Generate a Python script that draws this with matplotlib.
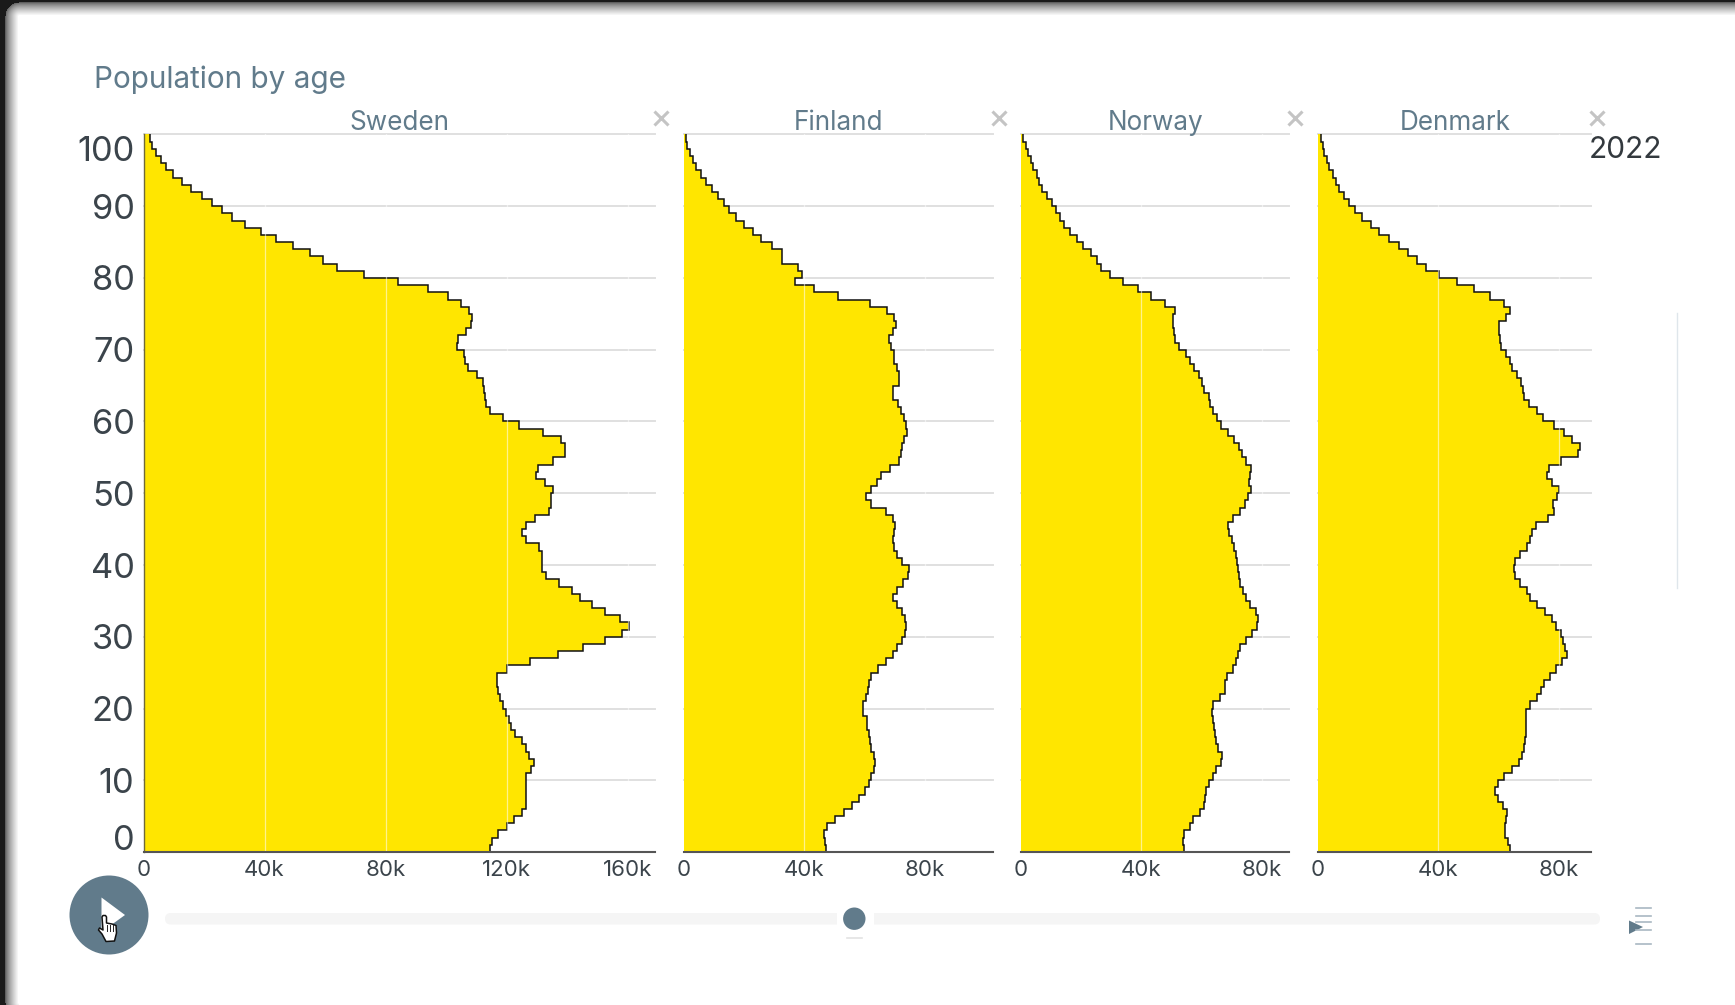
import numpy as np
import matplotlib
matplotlib.use("Agg")
import matplotlib.pyplot as plt
from matplotlib.patches import Circle, Polygon, FancyBboxPatch

plt.rcParams['font.family'] = ['Inter', 'DejaVu Sans']

W, H = 1735, 1005

# population by single year of age (thousands), age 0 .. 99
sweden = [114.5,115.2,117.3,120.3,122.6,125.1,126.4,126.4,126.4,126.3,
          126.3,128.2,129.2,127.4,126.3,125.1,122.7,121.5,120.9,119.8,
          118.8,118.0,117.3,116.8,116.9,120.3,127.8,137.0,145.4,152.7,
          158.2,160.6,157.5,152.7,148.4,144.4,141.5,137.2,133.2,131.6,
          131.6,131.8,130.7,126.6,125.1,126.3,129.3,133.9,134.7,134.6,
          135.4,132.7,129.6,130.4,135.4,139.3,139.3,138.0,132.2,124.0,
          118.7,114.7,113.2,112.8,112.6,112.3,110.3,107.3,106.4,105.9,
          103.7,104.0,106.7,108.4,108.7,107.6,105.0,100.8,93.9,84.1,
          73.0,64.0,59.4,55.1,49.3,43.8,38.8,33.5,29.4,26.0,
          22.7,19.2,15.6,12.6,9.8,7.3,5.8,4.0,2.8,2.0]
finland = [47.2,47.0,46.7,47.5,50.3,53.1,55.9,58.3,60.1,61.5,
           62.3,63.1,63.5,63.1,62.3,62.0,61.5,61.0,60.7,59.7,
           59.7,60.4,61.3,61.5,62.3,64.6,67.1,69.6,70.9,72.4,
           73.6,73.7,73.4,72.5,70.8,69.4,70.8,72.9,74.4,74.7,
           72.6,70.7,69.9,69.6,69.9,70.3,69.6,67.2,62.3,60.4,
           62.3,64.1,65.5,68.5,71.6,72.3,72.5,73.3,74.0,73.8,
           73.1,72.0,71.3,69.6,69.6,71.4,71.5,70.7,69.9,69.8,
           68.8,68.3,69.6,70.5,69.9,67.4,61.7,51.2,43.3,37.0,
           39.2,38.1,32.8,32.8,29.2,25.6,22.9,20.2,17.3,15.0,
           13.5,11.6,9.6,7.4,5.7,4.2,3.1,2.0,1.3,0.8]
norway = [54.1,53.7,54.1,56.0,57.2,59.6,60.9,61.2,61.5,62.4,
          63.8,64.9,66.6,66.9,65.4,64.9,64.3,64.0,63.9,63.5,
          63.9,66.1,67.7,67.7,68.3,70.4,71.5,72.2,72.8,74.6,
          76.7,78.5,78.7,78.0,76.2,74.8,73.9,72.7,72.3,72.0,
          71.7,71.3,70.9,70.1,69.0,68.8,70.4,72.7,74.3,75.4,
          76.5,75.9,76.1,76.4,74.8,73.5,72.4,70.9,68.8,66.3,
          65.0,63.8,62.9,62.3,60.9,60.2,59.3,57.6,56.1,54.9,
          52.6,51.3,50.8,50.6,50.6,51.0,48.0,43.2,39.0,34.0,
          29.5,26.7,25.4,23.2,20.7,18.5,16.2,14.3,12.9,11.5,
          10.4,8.5,7.1,6.0,5.2,4.1,3.2,2.2,1.5,0.8]
denmark = [64.0,63.1,62.2,62.2,62.4,62.8,61.5,59.9,59.0,59.9,
           61.7,64.6,66.7,67.8,68.6,68.8,69.1,69.1,69.2,69.3,
           70.5,72.8,74.1,75.2,77.1,79.1,81.2,82.9,82.2,81.5,
           80.7,79.1,77.9,75.4,72.7,70.5,69.5,67.3,65.4,65.1,
           65.5,67.2,69.4,70.5,71.2,72.4,76.4,78.5,78.0,79.4,
           80.2,77.8,76.1,76.8,80.6,86.3,87.2,84.3,81.8,78.3,
           74.7,72.7,70.3,68.5,68.0,67.4,66.3,64.5,63.8,62.5,
           60.9,60.6,60.2,60.3,62.5,63.9,61.9,57.2,51.8,46.4,
           40.4,35.9,32.9,29.9,26.9,23.8,20.3,17.6,14.9,12.5,
           10.5,8.7,7.2,6.2,5.0,3.9,3.1,2.3,1.7,1.1]

countries = ['Sweden', 'Finland', 'Norway', 'Denmark']
series = [sweden, finland, norway, denmark]
x_ticks = [[0, 40, 80, 120, 160], [0, 40, 80], [0, 40, 80], [0, 40, 80]]
y_ticks = [0, 10, 20, 30, 40, 50, 60, 70, 80, 90, 100]

# panel pixel layout: zero position, right end, px per thousand, close-mark x
panels = [(143.5, 654.5, 3.025, 661), (683.5, 992.5, 3.015, 999),
          (1021, 1289, 3.01, 1295), (1317.5, 1591, 3.015, 1597)]
TOP, BOTTOM = 134.5, 852

YELLOW = '#FFE600'
SLATE = '#617B8B'
DARK = '#3b444b'

fig = plt.figure(figsize=(W / 100, H / 100), dpi=100, facecolor='white')

# window frame with inner shadow (top and left edges only)
yy, xx = np.mgrid[0:H, 0:W]
r = 14.0
x0, y0, x1, y1 = 5.0, 2.0, W + 60.0, H + 11.0
qx = np.maximum(np.maximum(x0 + r - xx, xx - (x1 - r)), 0)
qy = np.maximum(np.maximum(y0 + r - yy, yy - (y1 - r)), 0)
inner = np.minimum(xx - x0, yy - y0)
dist = np.where((qx > 0) & (qy > 0), r - np.hypot(qx, qy), inner)
t = np.clip(dist / 13.0, 0, 1)
shade = 95 + (255 - 95) * t ** 0.75
shade = np.where(dist < 0, 26, shade)
fig.figimage(np.dstack([shade] * 3).astype(np.uint8), 0, 0, origin='upper', zorder=-5)

for name, vals, ticks, (xz, xr, sc, xc) in zip(countries, series, x_ticks, panels):
    ax = fig.add_axes([xz / W, 1 - BOTTOM / H, (xr - xz) / W, (BOTTOM - TOP) / H])
    ax.patch.set_alpha(0)
    ax.set_xlim(0, (xr - xz) / sc)
    ax.set_ylim(0, 100)
    for a in y_ticks[1:]:
        ax.axhline(a, color='#e0e0e0', lw=1.4, zorder=1, clip_on=False)
    edges = np.arange(len(vals) + 1)
    ax.stairs(vals, edges, orientation='horizontal', baseline=0, fill=True,
              color=YELLOW, lw=0, zorder=2)
    ax.stairs(vals, edges, orientation='horizontal', baseline=None, fill=False,
              color='#111111', lw=1.1, zorder=3)
    for v in ticks[1:]:
        ax.axvline(v, color='white', alpha=0.55, lw=0.9, zorder=4)
    for s in ('top', 'right', 'left'):
        ax.spines[s].set_visible(False)
    ax.spines['bottom'].set_color('#555555')
    ax.spines['bottom'].set_linewidth(1.5)
    ax.spines['bottom'].set_zorder(5)
    ax.set_yticks([])
    ax.set_xticks(ticks)
    ax.set_xticklabels([('0' if v == 0 else f'{v}k') for v in ticks],
                       fontsize=16, color=DARK)
    ax.tick_params(axis='x', length=0, pad=6)
    ax.annotate(name, (0.5, 1), xycoords='axes fraction', xytext=(0.5, 5),
                textcoords='offset pixels', ha='center', va='baseline',
                fontsize=18.8, color=SLATE, annotation_clip=False)
    if name == 'Sweden':
        ax.spines['left'].set_visible(True)
        ax.spines['left'].set_color('#6f6a3a')
        ax.spines['left'].set_linewidth(1.0)
        ax.spines['left'].set_zorder(5)
        for a in y_ticks:
            off = {100: -14, 0: 15}.get(a, 0)
            ax.annotate(str(a), (0, a), xytext=(-9, off), textcoords='offset pixels',
                        ha='right', va='center_baseline', fontsize=24.8,
                        color=DARK, annotation_clip=False)

# page elements in pixel coordinates
ui = fig.add_axes([0, 0, 1, 1], zorder=20)
ui.set_xlim(0, W)
ui.set_ylim(H, 0)
ui.axis('off')

ui.text(94, 77, 'Population by age', fontsize=21.4, color=SLATE, ha='left', va='center_baseline')
ui.text(1589, 147, '2022', fontsize=21.5, color='#33393e', ha='left', va='center_baseline')
for (_, _, _, xc) in panels:
    ui.plot([xc], [118], marker='x', ms=10, mew=2.2, color='#c4c4c4', ls='none')
ui.plot([1677, 1677], [313, 588], color='#dfe6eb', lw=1)

# play button
ui.add_patch(Circle((109, 915), 39.5, fc=SLATE, ec='none'))
ui.add_patch(Polygon([(101.5, 897.5), (125, 915), (101.5, 932)], fc='white', ec='none'))
ui.add_patch(Polygon([(102, 917), (103, 915.5), (105.5, 915.5), (106.5, 917), (106.5, 923),
                     (112, 924), (116, 925.5), (116.5, 933), (114.5, 941), (106, 941.5),
                     (102, 934), (98.5, 930), (99.5, 928), (103, 930)],
                     fc='white', ec='#111111', lw=1.1, joinstyle='round'))
for xf in (107, 110, 113):
    ui.plot([xf, xf], [925, 931], color='#222222', lw=0.7)

# time slider
ui.add_patch(FancyBboxPatch((165, 913), 1435, 11.5, boxstyle='round,pad=0,rounding_size=5.7',
                            fc='#f5f5f5', ec='none'))
ui.add_patch(Polygon([(837, 910), (874, 910), (874, 928), (837, 928)], fc='white', ec='none'))
ui.add_patch(Circle((854.3, 918.7), 11.2, fc=SLATE, ec='none'))
ui.plot([847, 862], [938, 938], color='#e3e3e3', lw=1.2)

# speed control
for yl in (908, 916, 922, 930, 944):
    ui.plot([1636, 1651], [yl, yl], color='#a9b8c2', lw=1.2)
ui.add_patch(Polygon([(1629, 920.5), (1629, 934), (1643, 927)], fc=SLATE, ec='none'))

fig.savefig('out.png', dpi=100)
